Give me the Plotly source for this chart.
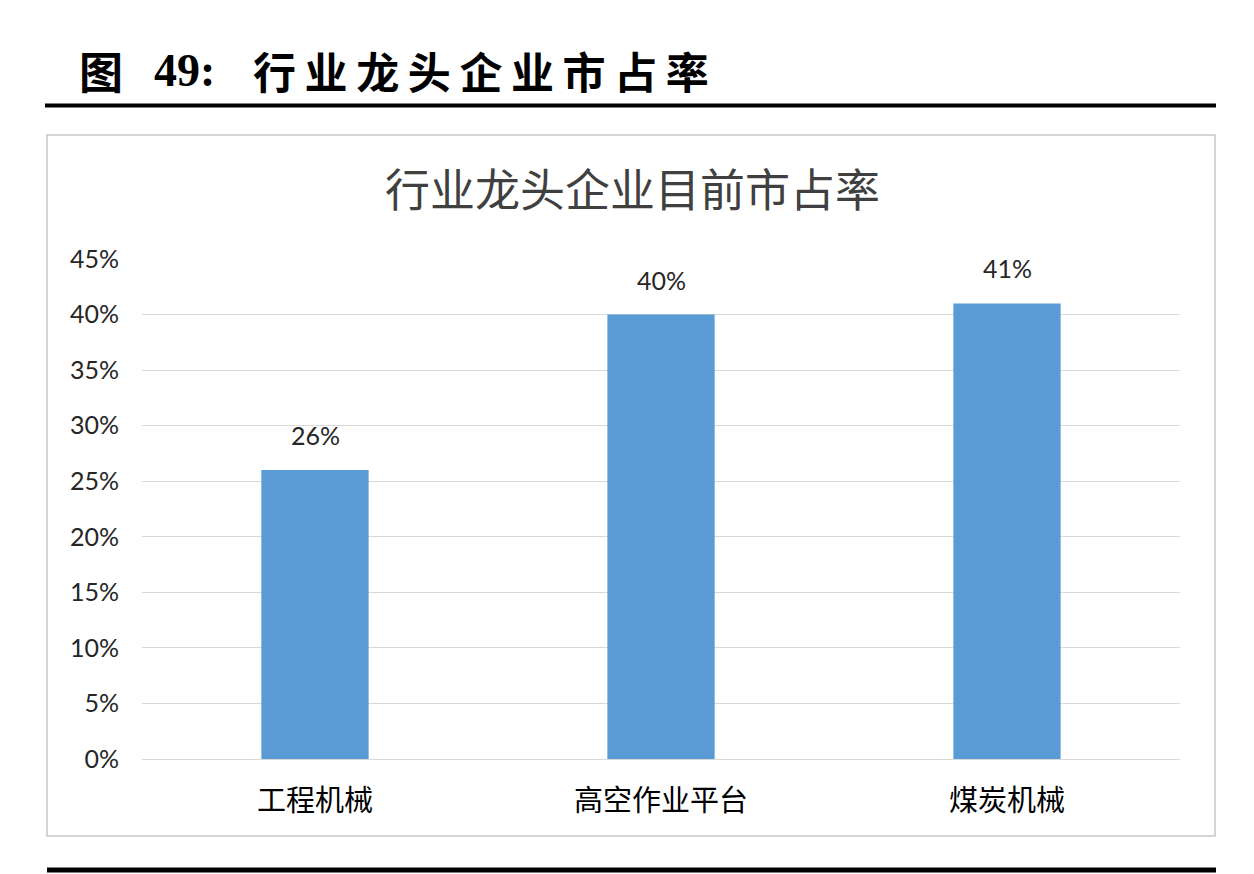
import plotly.graph_objects as go

categories = ["工程机械", "高空作业平台", "煤炭机械"]
values = [26, 40, 41]
value_labels = ["26%", "40%", "41%"]
tick_values = [0, 5, 10, 15, 20, 25, 30, 35, 40, 45]
tick_labels = ["0%", "5%", "10%", "15%", "20%", "25%", "30%", "35%", "40%", "45%"]
header_parts = ["图", "49:", "行业龙头企业市占率"]
chart_title = "行业龙头企业目前市占率"

OFF = 8  # page body margin
W, H = 1254, 874
L, R, T, B = 142 - OFF, 1180 - OFF, 259 - OFF, 759 - OFF  # plot area in figure pixels


def px(x):
    return (x - OFF - L) / (R - L)


def py(y):
    return (B - (y - OFF)) / (B - T)


fig = go.Figure()
fig.add_trace(go.Bar(
    x=categories, y=values,
    marker=dict(color="#5B9BD5", line=dict(width=0)),
    width=0.31,
    hoverinfo="skip",
))

for c, v, t in zip(categories, values, value_labels):
    fig.add_annotation(x=c, y=v, text=t, showarrow=False, yshift=35,
                       font=dict(family="Lato, Liberation Sans", size=25, color="#262626"))

shapes = [
    dict(type="rect", xref="paper", yref="paper", x0=px(47), x1=px(1215), y0=py(836), y1=py(135),
         line=dict(color="#C8C8C8", width=1.5), fillcolor="rgba(0,0,0,0)", layer="below"),
    dict(type="line", xref="paper", yref="paper", x0=px(45), x1=px(1216), y0=py(105.5), y1=py(105.5),
         line=dict(color="#000000", width=4)),
    dict(type="line", xref="paper", yref="paper", x0=px(47), x1=px(1216), y0=py(870), y1=py(870),
         line=dict(color="#000000", width=5)),
]

fig.add_annotation(xref="paper", yref="paper", x=px(77), y=py(70), xanchor="left", yanchor="middle",
                   text="<b>" + header_parts[0] + "</b>", showarrow=False,
                   font=dict(family="Noto Sans CJK SC", size=44, color="#000000"))
fig.add_annotation(xref="paper", yref="paper", x=px(152), y=py(70), xanchor="left", yanchor="middle",
                   text="<b>" + header_parts[1] + "</b>", showarrow=False,
                   font=dict(family="Liberation Serif", size=46, color="#000000"))
fig.add_annotation(xref="paper", yref="paper", x=px(251), y=py(70), xanchor="left", yanchor="middle",
                   text="<b>" + "\u2009".join(header_parts[2]) + "</b>", showarrow=False,
                   font=dict(family="Noto Sans CJK SC", size=43, color="#000000"))

fig.add_annotation(xref="paper", yref="paper", x=px(632), y=py(187), xanchor="center", yanchor="middle",
                   text=chart_title, showarrow=False,
                   font=dict(family="Noto Sans CJK SC", size=45, color="#404040"))

fig.update_layout(
    width=W, height=H,
    margin=dict(l=L, r=W - R, t=T, b=H - B, pad=0),
    paper_bgcolor="#FFFFFF", plot_bgcolor="#FFFFFF",
    showlegend=False,
    shapes=shapes,
    bargap=0.69,
)
fig.update_yaxes(
    range=[0, 45], tickvals=tick_values, ticktext=tick_labels,
    showgrid=True, gridcolor="#D9D9D9", gridwidth=1.2,
    zeroline=True, zerolinecolor="#D9D9D9", zerolinewidth=1.2,
    showline=False, ticks="", ticklabelstandoff=22,
    tickfont=dict(family="Lato, Liberation Sans", size=25, color="#262626"),
    fixedrange=True,
)
fig.update_xaxes(
    showgrid=False, showline=False, ticks="", ticklabelstandoff=22,
    tickfont=dict(family="Noto Sans CJK SC", size=29, color="#000000"),
    fixedrange=True,
)

fig.write_html("out.html", config={"displayModeBar": False})
